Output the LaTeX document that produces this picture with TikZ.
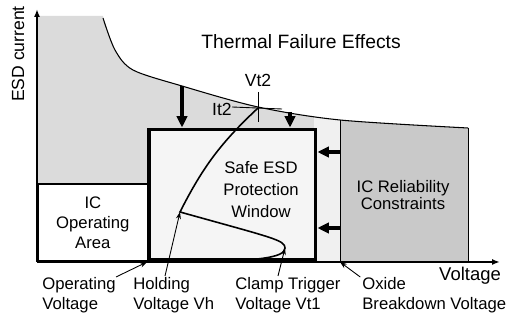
\documentclass[tikz,border=0pt]{standalone}
\usepackage{fontspec}
\setmainfont{Liberation Sans}
\usetikzlibrary{arrows.meta, positioning}

\begin{document}
\begin{tikzpicture}[x=0.02cm, y=0.02cm,
    axis_line/.style={line width=1.2pt, -{Latex[length=1.6mm,width=1.2mm]}},
    push_arrow/.style={line width=1.8pt, -{Triangle[length=2.3mm,width=2.1mm]}},
    leader/.style={line width=0.5pt, -{Stealth[length=1.4mm,width=1mm]}},
    lbl/.style={font=\fontsize{9.5}{11.3}\selectfont, align=left, inner sep=0pt},
    region_txt/.style={font=\fontsize{9.5}{11.3}\selectfont, align=center, inner sep=0pt}
]
    \useasboundingbox (-37,-61) rectangle (472,262);

    % Shaded area below the thermal failure limit
    \begin{scope}
        \clip (0,0) -- (0,246) -- (66,246) -- plot[smooth] coordinates {(66,244) (78,212) (96,192) (145,176) (221,155) (303,142) (431,134)} -- (431,0) -- cycle;
        \fill[gray!28] (0,0) rectangle (431,250);
        \fill[gray!12] (277,0) rectangle (303,250);
        \fill[gray!42] (303,0) rectangle (431,250);
    \end{scope}
    \draw[line width=0.6pt] plot[smooth] coordinates {(66,244) (78,212) (96,192) (145,176) (221,155) (303,142) (431,134)};
    \draw[line width=0.5pt] (303,0) -- (303,142);
    \draw[line width=0.5pt] (431,0) -- (431,134);

    % Regions
    \node (opbox) [draw, line width=1pt, fill=white, minimum width=2.2cm, minimum height=1.54cm, anchor=south west, region_txt] at (0,0) {IC\\Operating\\Area};
    \node (win) [draw, line width=2pt, fill=gray!8, minimum width=3.34cm, minimum height=2.62cm, anchor=south west] at (110,0) {};
    \node (wintxt) [region_txt, font=\fontsize{9.5}{12.5}\selectfont] at (224,72) {Safe ESD\\Protection\\Window};
    \node (reltxt) [region_txt, font=\fontsize{9.5}{10.2}\selectfont] at (366,67) {IC Reliability\\Constraints};

    % Snapback I-V curve
    \coordinate (vt2) at (221,154);
    \coordinate (vh) at (143,50);
    \coordinate (vt1) at (248,14);
    \draw[line width=0.9pt] (150,0) .. controls (220,1) and (248,4) .. (vt1) .. controls (248,22) and (236,24) .. (vh) to[bend left=10] (vt2);
    \draw[line width=0.5pt] (vt2) ++(0,16) -- ++(0,-30);
    \draw[line width=0.5pt] (vt2) ++(-26,1) -- ++(50,-2);
    \node (lvt2) [lbl, font=\fontsize{10}{12}\selectfont] at (221,182) {Vt2};
    \node (lit2) [lbl, font=\fontsize{10}{12}\selectfont, anchor=east] at (195,153) {It2};

    % Pushing arrows
    \coordinate (t1) at (145,176);
    \coordinate (t2) at (253,150);
    \coordinate (r1) at (303,110);
    \coordinate (r2) at (303,34);
    \draw[push_arrow] (t1) -- (t1 |- win.north);
    \draw[push_arrow] (t2) -- (t2 |- win.north);
    \draw[push_arrow] (r1) -- (r1 -| win.east);
    \draw[push_arrow] (r2) -- (r2 -| win.east);

    % Axes
    \coordinate (origin) at (0,0);
    \coordinate (ytop) at (0,253);
    \coordinate (xend) at (463,0);
    \draw[axis_line] (origin) -- (ytop);
    \draw[axis_line] (origin) -- (xend);
    \node (ylab) [lbl, font=\fontsize{10}{12}\selectfont, rotate=90] at (-19,208) {ESD current};
    \node (xlab) [lbl, font=\fontsize{10.5}{12}\selectfont, anchor=north] at (433,-5) {Voltage};
    \node (title) [font=\fontsize{11}{13}\selectfont] at (264,220) {Thermal Failure Effects};

    % Voltage labels
    \node (lop) [lbl, anchor=north west] at (5,-15) {Operating\\Voltage};
    \node (lhold) [lbl, anchor=north west] at (96,-15) {Holding\\Voltage Vh};
    \node (lclamp) [lbl, anchor=north west] at (198,-15) {Clamp Trigger\\Voltage Vt1};
    \node (lox) [lbl, anchor=north west] at (325,-15) {Oxide\\Breakdown Voltage};

    \coordinate (opv) at (110,0);
    \coordinate (oxv) at (303,0);
    \coordinate (vh_foot) at (128,-14);
    \coordinate (vt1_foot) at (241,-14);
    \draw[leader] (lop.north east) -- (opv);
    \draw[leader] (vh_foot) -- (vh);
    \draw[leader] (vt1_foot) -- (vt1);
    \draw[leader] ([xshift=-1pt]lox.north west) -- (oxv);
\end{tikzpicture}
\end{document}
